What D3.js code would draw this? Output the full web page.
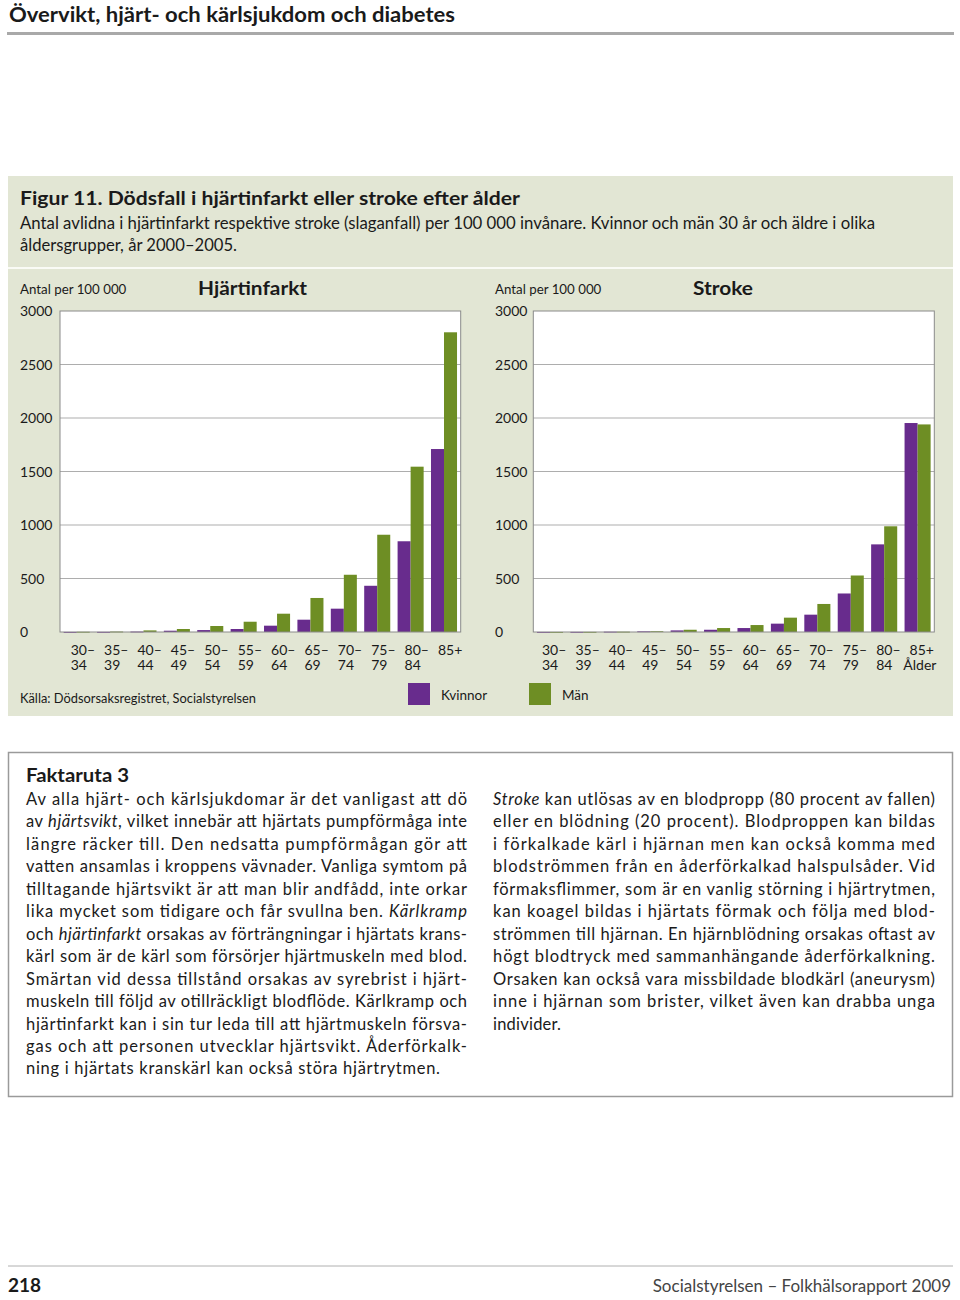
<!DOCTYPE html>
<html><head><meta charset="utf-8">
<script src="https://cdn.jsdelivr.net/npm/d3@7"></script>
<style>
html,body{margin:0;padding:0;background:#fff;}
svg{display:block;font-family:Lato,"Open Sans",sans-serif;}
</style></head>
<body>
<svg id="page" width="960" height="1300"></svg>
<script>
// ---------- data ----------
const ageLine1 = ["30–","35–","40–","45–","50–","55–","60–","65–","70–","75–","80–","85+"];
const ageLine2 = ["34","39","44","49","54","59","64","69","74","79","84",""];
const ageGroups = ["30-34","35-39","40-44","45-49","50-54","55-59","60-64","65-69","70-74","75-79","80-84","85+"];
const infarktKvinnor = [0.5, 1, 4, 12, 18, 28, 59, 115, 218, 432, 848, 1710];
const infarktMan     = [2, 4, 15, 28, 56, 96, 171, 318, 535, 909, 1545, 2801];
const strokeKvinnor  = [0.5, 1, 3, 6, 15, 21, 37, 78, 162, 360, 819, 1953];
const strokeMan      = [0.5, 1, 3, 7, 21, 37, 65, 134, 262, 528, 988, 1940];
const yTicks = [0, 500, 1000, 1500, 2000, 2500, 3000];
const seriesNames = ["Kvinnor", "Män"];

const factLeft = [
  [["Av alla hjärt- och kärlsjukdomar är det vanligast att dö"]],
  [["av "],["hjärtsvikt","i"],[", vilket innebär att hjärtats pumpförmåga inte"]],
  [["längre räcker till. Den nedsatta pumpförmågan gör att"]],
  [["vatten ansamlas i kroppens vävnader. Vanliga symtom på"]],
  [["tilltagande hjärtsvikt är att man blir andfådd, inte orkar"]],
  [["lika mycket som tidigare och får svullna ben. "],["Kärlkramp","i"]],
  [["och "],["hjärtinfarkt","i"],[" orsakas av förträngningar i hjärtats krans-"]],
  [["kärl som är de kärl som försörjer hjärtmuskeln med blod."]],
  [["Smärtan vid dessa tillstånd orsakas av syrebrist i hjärt-"]],
  [["muskeln till följd av otillräckligt blodflöde. Kärlkramp och"]],
  [["hjärtinfarkt kan i sin tur leda till att hjärtmuskeln försva-"]],
  [["gas och att personen utvecklar hjärtsvikt. Åderförkalk-"]],
  [["ning i hjärtats kranskärl kan också störa hjärtrytmen."]]
];
const factRight = [
  [["Stroke","i"],[" kan utlösas av en blodpropp (80 procent av fallen)"]],
  [["eller en blödning (20 procent). Blodproppen kan bildas"]],
  [["i förkalkade kärl i hjärnan men kan också komma med"]],
  [["blodströmmen från en åderförkalkad halspulsåder. Vid"]],
  [["förmaksflimmer, som är en vanlig störning i hjärtrytmen,"]],
  [["kan koagel bildas i hjärtats förmak och följa med blod-"]],
  [["strömmen till hjärnan. En hjärnblödning orsakas oftast av"]],
  [["högt blodtryck med sammanhängande åderförkalkning."]],
  [["Orsaken kan också vara missbildade blodkärl (aneurysm)"]],
  [["inne i hjärnan som brister, vilket även kan drabba unga"]],
  [["individer."]]
];

// ---------- styles ----------
const PURPLE = "#682c8d", GREEN = "#6e8e24", BOXBG = "#e2e6d4", TXT = "#1a1a1a";
const svg = d3.select("#page");

// header
svg.append("text").attr("x", 9).attr("y", 22).attr("font-size", 20).attr("font-weight", 700)
  .attr("fill", TXT).attr("textLength", 446).attr("lengthAdjust", "spacingAndGlyphs")
  .text("Övervikt, hjärt- och kärlsjukdom och diabetes");
svg.append("rect").attr("x", 7).attr("y", 32).attr("width", 947).attr("height", 3).attr("fill", "#a9a9a9");

// figure box
svg.append("rect").attr("x", 8).attr("y", 176).attr("width", 945).attr("height", 540).attr("fill", BOXBG);
svg.append("rect").attr("x", 8).attr("y", 267).attr("width", 945).attr("height", 2).attr("fill", "#fafbf6");

svg.append("text").attr("x", 20).attr("y", 205).attr("font-size", 19).attr("font-weight", 700)
  .attr("fill", TXT).attr("textLength", 500).attr("lengthAdjust", "spacingAndGlyphs")
  .text("Figur 11. Dödsfall i hjärtinfarkt eller stroke efter ålder");
svg.append("text").attr("x", 20).attr("y", 229).attr("font-size", 16.5).attr("fill", TXT)
  .attr("textLength", 855).attr("lengthAdjust", "spacingAndGlyphs")
  .text("Antal avlidna i hjärtinfarkt respektive stroke (slaganfall) per 100 000 invånare. Kvinnor och män 30 år och äldre i olika");
svg.append("text").attr("x", 20).attr("y", 251).attr("font-size", 16.5).attr("fill", TXT)
  .attr("textLength", 217).attr("lengthAdjust", "spacingAndGlyphs")
  .text("åldersgrupper, år 2000–2005.");

// ---------- charts ----------
function drawChart(cfg) {
  const g = svg.append("g");
  const y = d3.scaleLinear().domain([0, 3000]).range([632, 311]);
  const x = d3.scaleBand().domain(ageGroups).range([cfg.x0, cfg.x1]).paddingInner(0.22).paddingOuter(0.11);
  const xs = d3.scaleBand().domain(seriesNames).range([0, x.bandwidth()]);

  g.append("text").attr("x", cfg.labelX).attr("y", 293.5).attr("font-size", 13.3).attr("fill", TXT)
    .text("Antal per 100 000");
  g.append("text").attr("x", cfg.titleX).attr("y", 294.5).attr("font-size", 19).attr("font-weight", 700)
    .attr("fill", TXT).attr("textLength", cfg.titleW).attr("lengthAdjust", "spacingAndGlyphs").text(cfg.title);

  g.append("rect").attr("x", cfg.x0).attr("y", 311).attr("width", cfg.x1 - cfg.x0).attr("height", 321)
    .attr("fill", "#fff");

  g.selectAll(".grid").data(yTicks.filter(d => d > 0 && d < 3000)).join("line")
    .attr("x1", cfg.x0).attr("x2", cfg.x1).attr("y1", d => y(d)).attr("y2", d => y(d))
    .attr("stroke", "#adadad").attr("stroke-width", 1);

  // y axis labels (left-aligned text)
  const yAxis = d3.axisLeft(y).tickValues(yTicks).tickSize(0).tickFormat(d3.format("d"));
  const ya = g.append("g").attr("transform", `translate(${cfg.labelX},0)`).call(yAxis);
  ya.select(".domain").remove();
  ya.selectAll("text").attr("x", 0).attr("text-anchor", "start").attr("font-size", 14)
    .attr("font-family", "Lato").attr("fill", TXT).attr("dy", "0.35em");

  const data = ageGroups.map((a, i) => ({ age: a, vals: [cfg.women[i], cfg.men[i]] }));
  const grp = g.selectAll(".grp").data(data).join("g").attr("transform", d => `translate(${x(d.age)},0)`);
  grp.selectAll("rect").data(d => d.vals.map((v, j) => ({ s: seriesNames[j], v })))
    .join("rect")
    .attr("x", d => xs(d.s)).attr("width", xs.bandwidth())
    .attr("y", d => y(d.v)).attr("height", d => Math.max(0.8, y(0) - y(d.v)))
    .attr("fill", d => d.s === "Kvinnor" ? PURPLE : GREEN);

  g.append("rect").attr("x", cfg.x0).attr("y", 311).attr("width", cfg.x1 - cfg.x0).attr("height", 321)
    .attr("fill", "none").attr("stroke", "#8a8a8a").attr("stroke-width", 1);

  // x labels
  const xl = g.selectAll(".xl").data(ageGroups).join("text")
    .attr("x", d => x(d) + x.bandwidth() / 2 + cfg.labOff).attr("y", 655)
    .attr("font-size", 14).attr("fill", TXT);
  xl.append("tspan").text((d, i) => ageLine1[i]);
  xl.append("tspan").attr("x", d => x(d) + x.bandwidth() / 2 + cfg.labOff).attr("dy", 15)
    .text((d, i) => ageLine2[i]);
  if (cfg.alder) {
    g.append("text").attr("x", cfg.x1 - 31).attr("y", 670).attr("font-size", 14).attr("fill", TXT).text("Ålder");
  }
}

drawChart({ x0: 60, x1: 460.7, labelX: 20, titleX: 198, titleW: 109, title: "Hjärtinfarkt",
  women: infarktKvinnor, men: infarktMan, labOff: -6, alder: false });
drawChart({ x0: 533.3, x1: 934.3, labelX: 495, titleX: 693, titleW: 60, title: "Stroke",
  women: strokeKvinnor, men: strokeMan, labOff: -8, alder: true });

// source + legend
svg.append("text").attr("x", 20).attr("y", 703).attr("font-size", 13.5).attr("fill", TXT)
  .attr("textLength", 236).attr("lengthAdjust", "spacingAndGlyphs")
  .text("Källa: Dödsorsaksregistret, Socialstyrelsen");
const legX = [408, 529];
const leg = svg.selectAll(".leg").data(seriesNames).join("g").attr("transform", (d, i) => `translate(${legX[i]},683)`);
leg.append("rect").attr("width", 22).attr("height", 22).attr("fill", (d, i) => i === 0 ? PURPLE : GREEN);
leg.append("text").attr("x", 33).attr("y", 17).attr("font-size", 13.5).attr("fill", TXT).text(d => d);

// ---------- fact box ----------
svg.append("rect").attr("x", 8.5).attr("y", 752.5).attr("width", 944).attr("height", 344)
  .attr("fill", "none").attr("stroke", "#9a9a9a").attr("stroke-width", 1.5);
svg.append("text").attr("x", 26).attr("y", 782).attr("font-size", 18).attr("font-weight", 700)
  .attr("fill", TXT).attr("textLength", 103).attr("lengthAdjust", "spacingAndGlyphs").text("Faktaruta 3");

function column(lines, x0, width, lastW) {
  lines.forEach((parts, i) => {
    const t = svg.append("text").attr("x", x0).attr("y", 805 + i * 22.45)
      .attr("font-size", 16.5).attr("fill", TXT);
    t.attr("textLength", i < lines.length - 1 ? width : lastW).attr("lengthAdjust", "spacing");
    parts.forEach(p => {
      const ts = t.append("tspan").text(p[0]);
      if (p[1] === "i") ts.attr("font-style", "italic");
    });
  });
}
column(factLeft, 26, 441, 414);
column(factRight, 493, 442, 68);

// ---------- footer ----------
svg.append("line").attr("x1", 8).attr("x2", 953).attr("y1", 1266).attr("y2", 1266)
  .attr("stroke", "#b0b0b0").attr("stroke-width", 1);
svg.append("text").attr("x", 8).attr("y", 1292).attr("font-size", 19).attr("font-weight", 700)
  .attr("fill", TXT).text("218");
svg.append("text").attr("x", 951).attr("y", 1292).attr("font-size", 17).attr("text-anchor", "end")
  .attr("fill", "#444").text("Socialstyrelsen – Folkhälsorapport 2009");
</script>
</body></html>
